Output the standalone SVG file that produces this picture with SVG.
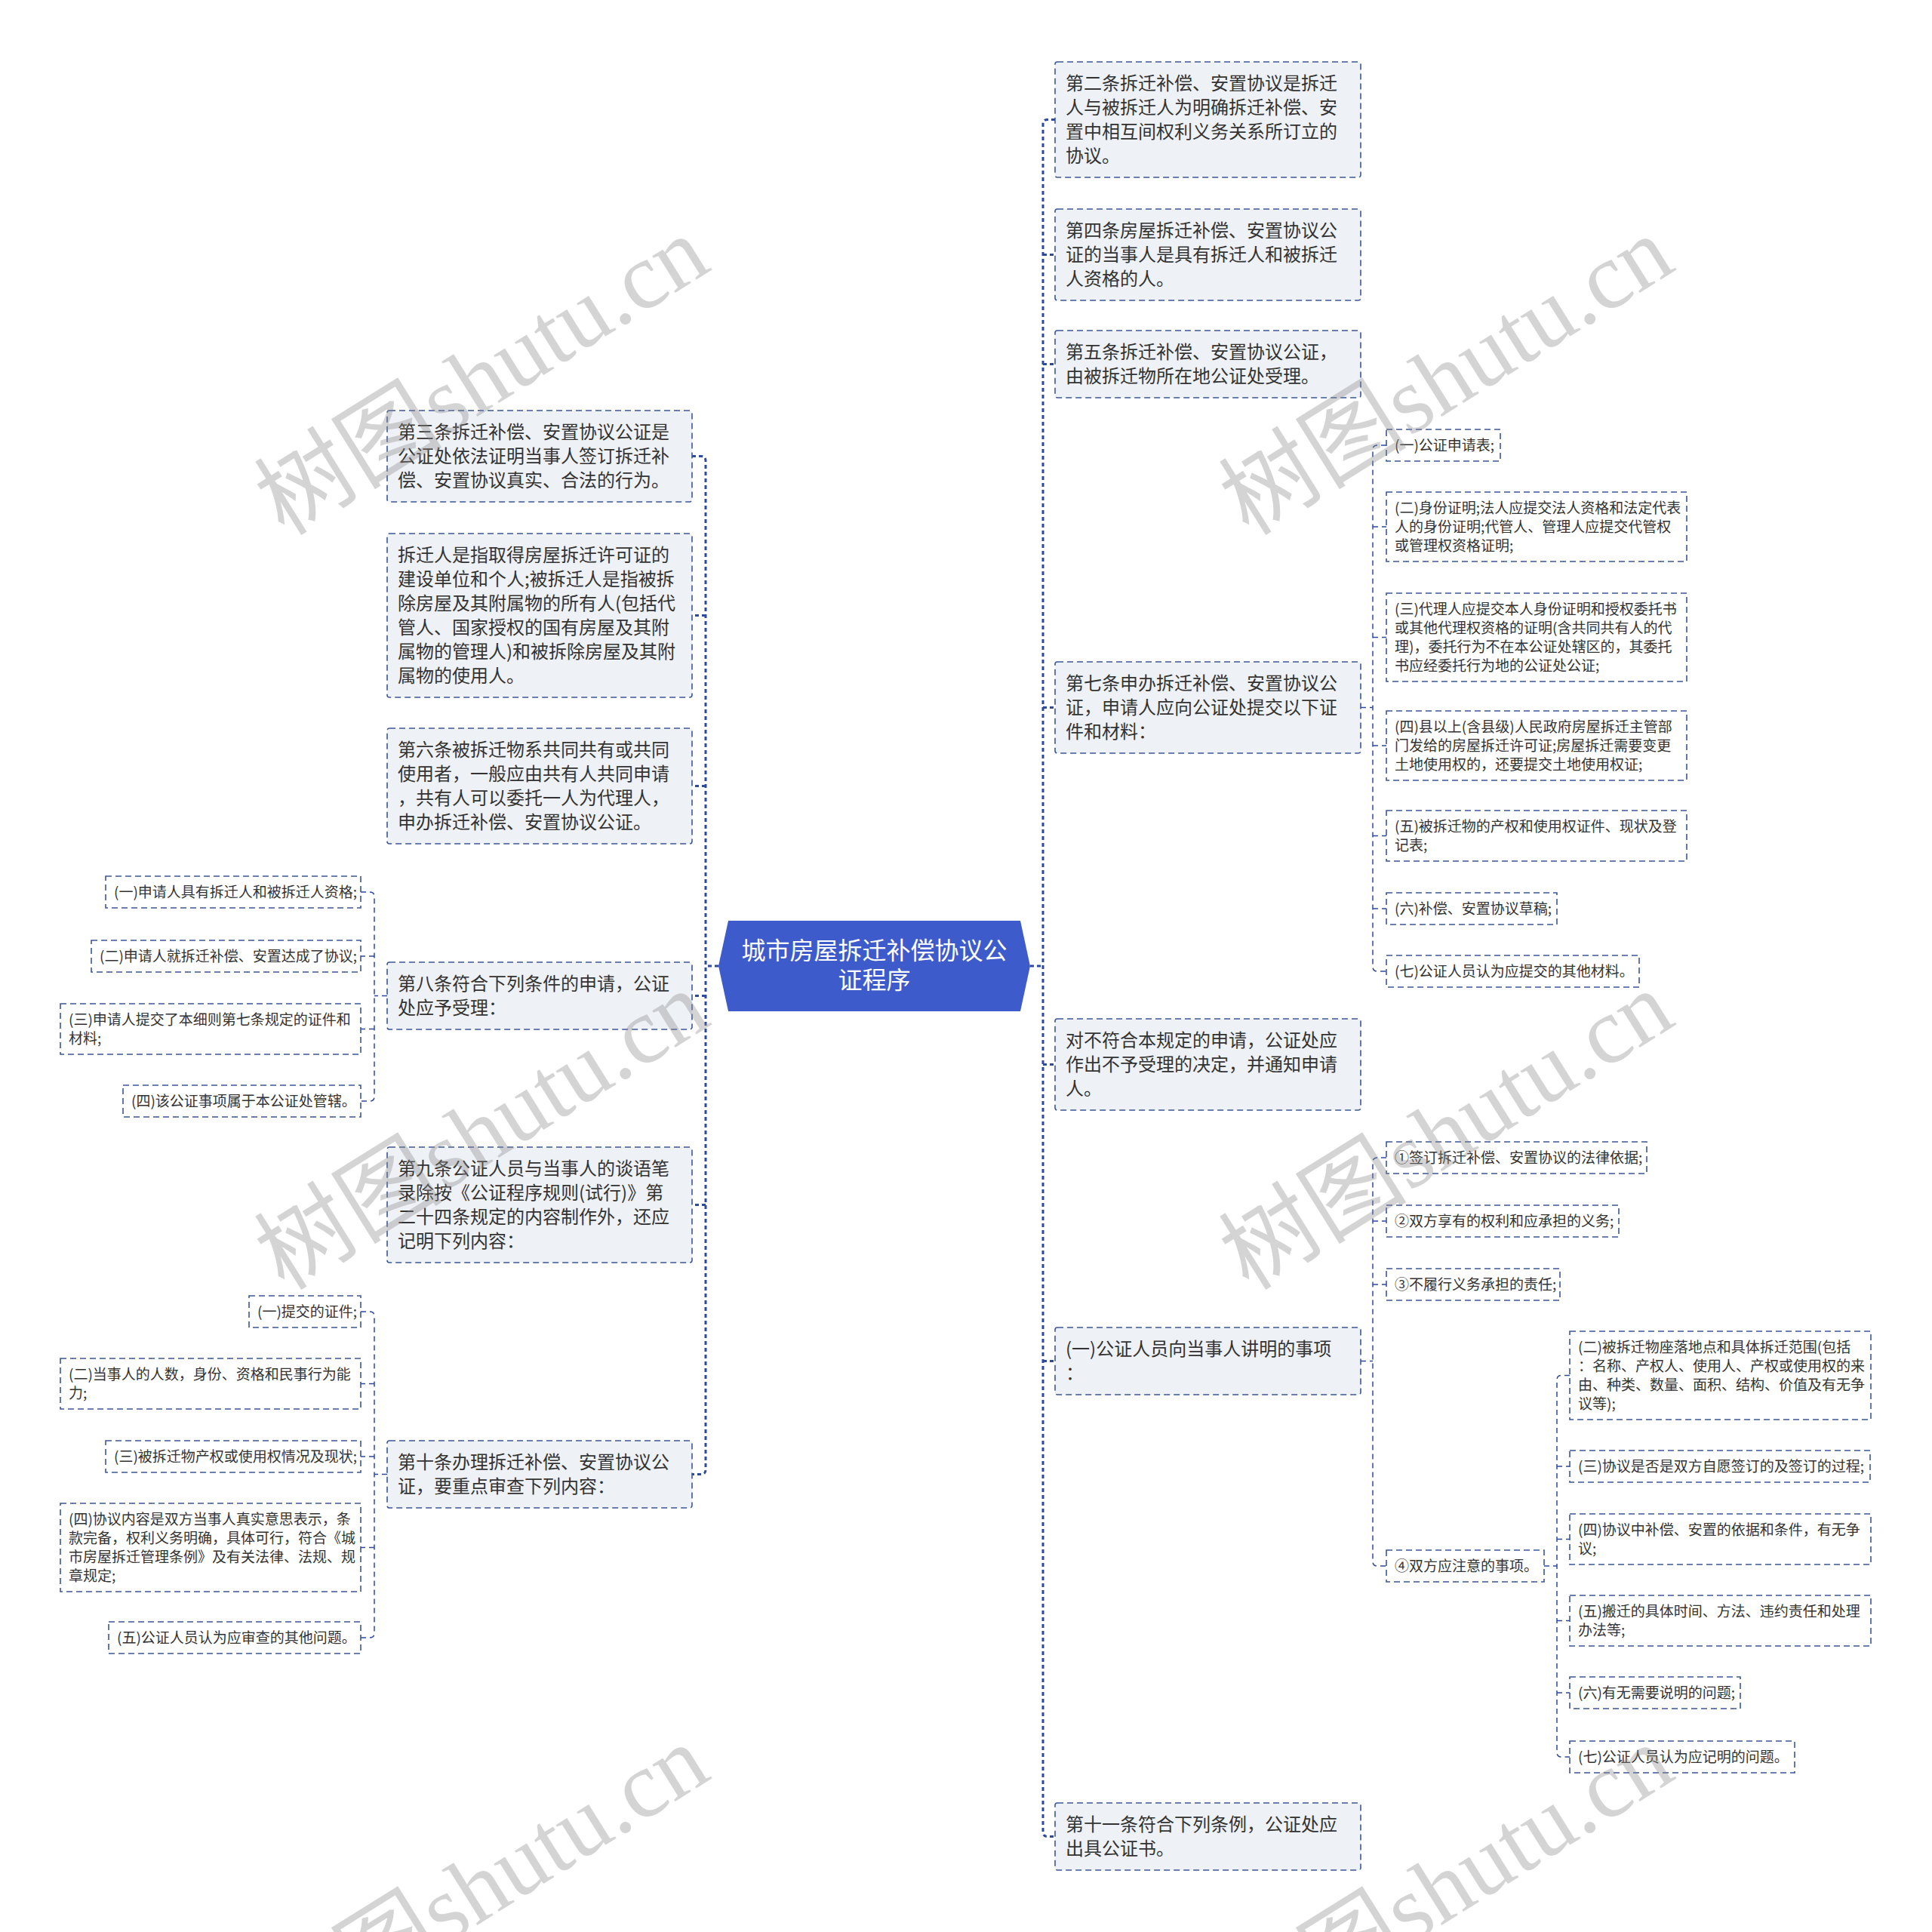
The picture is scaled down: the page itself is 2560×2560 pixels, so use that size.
<svg xmlns="http://www.w3.org/2000/svg" width="2560" height="2560" viewBox="0 0 2560 2560">
<style>
.bg{fill:#ffffff}
.n1{fill:#eef1f6;stroke:#3b5797;stroke-width:1.6;stroke-dasharray:8 5}
.n2{fill:#ffffff;stroke:#3b5797;stroke-width:1.6;stroke-dasharray:8 5}
.t1{font-family:"Noto Sans CJK SC","Noto Sans",sans-serif;font-size:24px;fill:#333333}
.t2{font-family:"Noto Sans CJK SC","Noto Sans",sans-serif;font-size:19px;fill:#333333}
.tr{font-family:"Noto Sans CJK SC","Noto Sans",sans-serif;font-size:32px;fill:#ffffff;text-anchor:middle}
.main{fill:none;stroke:#2c4a9e;stroke-width:3;stroke-dasharray:5 4}
.sub{fill:none;stroke:#2c4a9e;stroke-width:1.5;stroke-dasharray:7 5}
.wm{font-family:"Liberation Serif","Noto Sans CJK SC",serif;font-size:125px;fill:#8a8a8a;opacity:0.36;text-anchor:middle}
</style>
<rect class="bg" x="0" y="0" width="2560" height="2560"/>

<g id="connectors">
  <path class="main" d="M952 1280 H935"/>
  <path class="main" d="M917 604.5 H929 Q935 604.5 935 610.5 V1947.5 Q935 1953.5 929 1953.5 H917"/>
  <path class="main" d="M935 815.5 H917 M935 1041.5 H917 M935 1319.5 H917 M935 1596.5 H917"/>
  <path class="main" d="M1365 1280 H1382"/>
  <path class="main" d="M1398 158.5 H1388 Q1382 158.5 1382 164.5 V2427.5 Q1382 2433.5 1388 2433.5 H1398"/>
  <path class="main" d="M1382 337.5 H1398 M1382 482.5 H1398 M1382 937.5 H1398 M1382 1410.5 H1398 M1382 1803.5 H1398"/>

  <path class="sub" d="M1803 937.5 H1819"/>
  <path class="sub" d="M1837 590 H1825 Q1819 590 1819 596 V1281 Q1819 1287 1825 1287 H1837"/>
  <path class="sub" d="M1819 698 H1837 M1819 844.5 H1837 M1819 988 H1837 M1819 1107.5 H1837 M1819 1204 H1837"/>

  <path class="sub" d="M513 1319.5 H496"/>
  <path class="sub" d="M478 1182 H490 Q496 1182 496 1188 V1453 Q496 1459 490 1459 H478"/>
  <path class="sub" d="M496 1267 H478 M496 1363.5 H478"/>

  <path class="sub" d="M513 1953.5 H496"/>
  <path class="sub" d="M478 1738 H490 Q496 1738 496 1744 V2164 Q496 2170 490 2170 H478"/>
  <path class="sub" d="M496 1833.5 H478 M496 1930 H478 M496 2050.5 H478"/>

  <path class="sub" d="M1803 1803.5 H1819"/>
  <path class="sub" d="M1837 1534 H1825 Q1819 1534 1819 1540 V2069 Q1819 2075 1825 2075 H1837"/>
  <path class="sub" d="M1819 1618 H1837 M1819 1702 H1837"/>

  <path class="sub" d="M2046 2075 H2063"/>
  <path class="sub" d="M2080 1822.5 H2069 Q2063 1822.5 2063 1828.5 V2322 Q2063 2328 2069 2328 H2080"/>
  <path class="sub" d="M2063 1943 H2080 M2063 2039.5 H2080 M2063 2147.5 H2080 M2063 2243 H2080"/>
</g>

<g id="root">
  <polygon points="952,1280 965,1220 1352,1220 1365,1280 1352,1340 965,1340" fill="#3e5bcb"/>
  <text class="tr"><tspan x="1158.5" y="1271">城市房屋拆迁补偿协议公</tspan><tspan x="1158.5" y="1310">证程序</tspan></text>
</g>

<!-- right level 1 -->
<g id="n-art2">
  <rect class="n1" x="1398" y="82" width="405" height="153" rx="3"/>
  <text class="t1"><tspan x="1412" y="119">第二条拆迁补偿、安置协议是拆迁</tspan><tspan x="1412" y="151">人与被拆迁人为明确拆迁补偿、安</tspan><tspan x="1412" y="183">置中相互间权利义务关系所订立的</tspan><tspan x="1412" y="215">协议。</tspan></text>
</g>
<g id="n-art4">
  <rect class="n1" x="1398" y="277" width="405" height="121" rx="3"/>
  <text class="t1"><tspan x="1412" y="314">第四条房屋拆迁补偿、安置协议公</tspan><tspan x="1412" y="346">证的当事人是具有拆迁人和被拆迁</tspan><tspan x="1412" y="378">人资格的人。</tspan></text>
</g>
<g id="n-art5">
  <rect class="n1" x="1398" y="438" width="405" height="89" rx="3"/>
  <text class="t1"><tspan x="1412" y="475">第五条拆迁补偿、安置协议公证，</tspan><tspan x="1412" y="507">由被拆迁物所在地公证处受理。</tspan></text>
</g>
<g id="n-art7">
  <rect class="n1" x="1398" y="877" width="405" height="121" rx="3"/>
  <text class="t1"><tspan x="1412" y="914">第七条申办拆迁补偿、安置协议公</tspan><tspan x="1412" y="946">证，申请人应向公证处提交以下证</tspan><tspan x="1412" y="978">件和材料：</tspan></text>
</g>
<g id="n-reject">
  <rect class="n1" x="1398" y="1350" width="405" height="121" rx="3"/>
  <text class="t1"><tspan x="1412" y="1387">对不符合本规定的申请，公证处应</tspan><tspan x="1412" y="1419">作出不予受理的决定，并通知申请</tspan><tspan x="1412" y="1451">人。</tspan></text>
</g>
<g id="n-explain">
  <rect class="n1" x="1398" y="1759" width="405" height="89" rx="3"/>
  <text class="t1"><tspan x="1412" y="1796">(一)公证人员向当事人讲明的事项</tspan><tspan x="1412" y="1828">：</tspan></text>
</g>
<g id="n-art11">
  <rect class="n1" x="1398" y="2389" width="405" height="89" rx="3"/>
  <text class="t1"><tspan x="1412" y="2426">第十一条符合下列条例，公证处应</tspan><tspan x="1412" y="2458">出具公证书。</tspan></text>
</g>

<!-- left level 1 -->
<g id="n-art3">
  <rect class="n1" x="513" y="544" width="404" height="121" rx="3"/>
  <text class="t1"><tspan x="527" y="581">第三条拆迁补偿、安置协议公证是</tspan><tspan x="527" y="613">公证处依法证明当事人签订拆迁补</tspan><tspan x="527" y="645">偿、安置协议真实、合法的行为。</tspan></text>
</g>
<g id="n-def">
  <rect class="n1" x="513" y="707" width="404" height="217" rx="3"/>
  <text class="t1"><tspan x="527" y="744">拆迁人是指取得房屋拆迁许可证的</tspan><tspan x="527" y="776">建设单位和个人;被拆迁人是指被拆</tspan><tspan x="527" y="808">除房屋及其附属物的所有人(包括代</tspan><tspan x="527" y="840">管人、国家授权的国有房屋及其附</tspan><tspan x="527" y="872">属物的管理人)和被拆除房屋及其附</tspan><tspan x="527" y="904">属物的使用人。</tspan></text>
</g>
<g id="n-art6">
  <rect class="n1" x="513" y="965" width="404" height="153" rx="3"/>
  <text class="t1"><tspan x="527" y="1002">第六条被拆迁物系共同共有或共同</tspan><tspan x="527" y="1034">使用者，一般应由共有人共同申请</tspan><tspan x="527" y="1066">，共有人可以委托一人为代理人，</tspan><tspan x="527" y="1098">申办拆迁补偿、安置协议公证。</tspan></text>
</g>
<g id="n-art8">
  <rect class="n1" x="513" y="1275" width="404" height="89" rx="3"/>
  <text class="t1"><tspan x="527" y="1312">第八条符合下列条件的申请，公证</tspan><tspan x="527" y="1344">处应予受理：</tspan></text>
</g>
<g id="n-art9">
  <rect class="n1" x="513" y="1520" width="404" height="153" rx="3"/>
  <text class="t1"><tspan x="527" y="1557">第九条公证人员与当事人的谈语笔</tspan><tspan x="527" y="1589">录除按《公证程序规则(试行)》第</tspan><tspan x="527" y="1621">二十四条规定的内容制作外，还应</tspan><tspan x="527" y="1653">记明下列内容：</tspan></text>
</g>
<g id="n-art10">
  <rect class="n1" x="513" y="1909" width="404" height="89" rx="3"/>
  <text class="t1"><tspan x="527" y="1946">第十条办理拆迁补偿、安置协议公</tspan><tspan x="527" y="1978">证，要重点审查下列内容：</tspan></text>
</g>

<!-- art7 children -->
<g id="n-a7-1">
  <rect class="n2" x="1837" y="569" width="151" height="42"/>
  <text class="t2" x="1848" y="597">(一)公证申请表;</text>
</g>
<g id="n-a7-2">
  <rect class="n2" x="1837" y="652" width="398" height="92"/>
  <text class="t2"><tspan x="1848" y="680">(二)身份证明;法人应提交法人资格和法定代表</tspan><tspan x="1848" y="705">人的身份证明;代管人、管理人应提交代管权</tspan><tspan x="1848" y="730">或管理权资格证明;</tspan></text>
</g>
<g id="n-a7-3">
  <rect class="n2" x="1837" y="786" width="398" height="117"/>
  <text class="t2"><tspan x="1848" y="814">(三)代理人应提交本人身份证明和授权委托书</tspan><tspan x="1848" y="839">或其他代理权资格的证明(含共同共有人的代</tspan><tspan x="1848" y="864">理)，委托行为不在本公证处辖区的，其委托</tspan><tspan x="1848" y="889">书应经委托行为地的公证处公证;</tspan></text>
</g>
<g id="n-a7-4">
  <rect class="n2" x="1837" y="942" width="398" height="92"/>
  <text class="t2"><tspan x="1848" y="970">(四)县以上(含县级)人民政府房屋拆迁主管部</tspan><tspan x="1848" y="995">门发给的房屋拆迁许可证;房屋拆迁需要变更</tspan><tspan x="1848" y="1020">土地使用权的，还要提交土地使用权证;</tspan></text>
</g>
<g id="n-a7-5">
  <rect class="n2" x="1837" y="1074" width="398" height="67"/>
  <text class="t2"><tspan x="1848" y="1102">(五)被拆迁物的产权和使用权证件、现状及登</tspan><tspan x="1848" y="1127">记表;</tspan></text>
</g>
<g id="n-a7-6">
  <rect class="n2" x="1837" y="1183" width="226" height="42"/>
  <text class="t2" x="1848" y="1211">(六)补偿、安置协议草稿;</text>
</g>
<g id="n-a7-7">
  <rect class="n2" x="1837" y="1266" width="335" height="42"/>
  <text class="t2" x="1848" y="1294">(七)公证人员认为应提交的其他材料。</text>
</g>

<!-- art8 children -->
<g id="n-a8-1">
  <rect class="n2" x="140" y="1161" width="338" height="42"/>
  <text class="t2" x="151" y="1189">(一)申请人具有拆迁人和被拆迁人资格;</text>
</g>
<g id="n-a8-2">
  <rect class="n2" x="121" y="1246" width="357" height="42"/>
  <text class="t2" x="132" y="1274">(二)申请人就拆迁补偿、安置达成了协议;</text>
</g>
<g id="n-a8-3">
  <rect class="n2" x="80" y="1330" width="398" height="67"/>
  <text class="t2"><tspan x="91" y="1358">(三)申请人提交了本细则第七条规定的证件和</tspan><tspan x="91" y="1383">材料;</tspan></text>
</g>
<g id="n-a8-4">
  <rect class="n2" x="163" y="1438" width="315" height="42"/>
  <text class="t2" x="174" y="1466">(四)该公证事项属于本公证处管辖。</text>
</g>

<!-- art10 children -->
<g id="n-a10-1">
  <rect class="n2" x="330" y="1717" width="148" height="42"/>
  <text class="t2" x="341" y="1745">(一)提交的证件;</text>
</g>
<g id="n-a10-2">
  <rect class="n2" x="80" y="1800" width="398" height="67"/>
  <text class="t2"><tspan x="91" y="1828">(二)当事人的人数，身份、资格和民事行为能</tspan><tspan x="91" y="1853">力;</tspan></text>
</g>
<g id="n-a10-3">
  <rect class="n2" x="140" y="1909" width="338" height="42"/>
  <text class="t2" x="151" y="1937">(三)被拆迁物产权或使用权情况及现状;</text>
</g>
<g id="n-a10-4">
  <rect class="n2" x="80" y="1992" width="398" height="117"/>
  <text class="t2"><tspan x="91" y="2020">(四)协议内容是双方当事人真实意思表示，条</tspan><tspan x="91" y="2045">款完备，权利义务明确，具体可行，符合《城</tspan><tspan x="91" y="2070">市房屋拆迁管理条例》及有关法律、法规、规</tspan><tspan x="91" y="2095">章规定;</tspan></text>
</g>
<g id="n-a10-5">
  <rect class="n2" x="144" y="2149" width="334" height="42"/>
  <text class="t2" x="155" y="2177">(五)公证人员认为应审查的其他问题。</text>
</g>

<!-- explain children -->
<g id="n-e-1">
  <rect class="n2" x="1837" y="1513" width="345" height="42"/>
  <text class="t2" x="1848" y="1541">①签订拆迁补偿、安置协议的法律依据;</text>
</g>
<g id="n-e-2">
  <rect class="n2" x="1837" y="1597" width="308" height="42"/>
  <text class="t2" x="1848" y="1625">②双方享有的权利和应承担的义务;</text>
</g>
<g id="n-e-3">
  <rect class="n2" x="1837" y="1681" width="230" height="42"/>
  <text class="t2" x="1848" y="1709">③不履行义务承担的责任;</text>
</g>
<g id="n-e-4">
  <rect class="n2" x="1837" y="2054" width="209" height="42"/>
  <text class="t2" x="1848" y="2082">④双方应注意的事项。</text>
</g>

<!-- item 4 children -->
<g id="n-e4-2">
  <rect class="n2" x="2080" y="1764" width="399" height="117"/>
  <text class="t2"><tspan x="2091" y="1792">(二)被拆迁物座落地点和具体拆迁范围(包括</tspan><tspan x="2091" y="1817">：名称、产权人、使用人、产权或使用权的来</tspan><tspan x="2091" y="1842">由、种类、数量、面积、结构、价值及有无争</tspan><tspan x="2091" y="1867">议等);</tspan></text>
</g>
<g id="n-e4-3">
  <rect class="n2" x="2080" y="1922" width="398" height="42"/>
  <text class="t2" x="2091" y="1950">(三)协议是否是双方自愿签订的及签订的过程;</text>
</g>
<g id="n-e4-4">
  <rect class="n2" x="2080" y="2006" width="399" height="67"/>
  <text class="t2"><tspan x="2091" y="2034">(四)协议中补偿、安置的依据和条件，有无争</tspan><tspan x="2091" y="2059">议;</tspan></text>
</g>
<g id="n-e4-5">
  <rect class="n2" x="2080" y="2114" width="399" height="67"/>
  <text class="t2"><tspan x="2091" y="2142">(五)搬迁的具体时间、方法、违约责任和处理</tspan><tspan x="2091" y="2167">办法等;</tspan></text>
</g>
<g id="n-e4-6">
  <rect class="n2" x="2080" y="2222" width="226" height="42"/>
  <text class="t2" x="2091" y="2250">(六)有无需要说明的问题;</text>
</g>
<g id="n-e4-7">
  <rect class="n2" x="2080" y="2307" width="298" height="42"/>
  <text class="t2" x="2091" y="2335">(七)公证人员认为应记明的问题。</text>
</g>

<g id="watermark">
  <text class="wm" transform="translate(661 534) rotate(-32)">树图shutu.cn</text>
  <text class="wm" transform="translate(1939 534) rotate(-32)">树图shutu.cn</text>
  <text class="wm" transform="translate(661 1534) rotate(-32)">树图shutu.cn</text>
  <text class="wm" transform="translate(1939 1534) rotate(-32)">树图shutu.cn</text>
  <text class="wm" transform="translate(661 2533) rotate(-32)">树图shutu.cn</text>
  <text class="wm" transform="translate(1939 2533) rotate(-32)">树图shutu.cn</text>
</g>
</svg>
